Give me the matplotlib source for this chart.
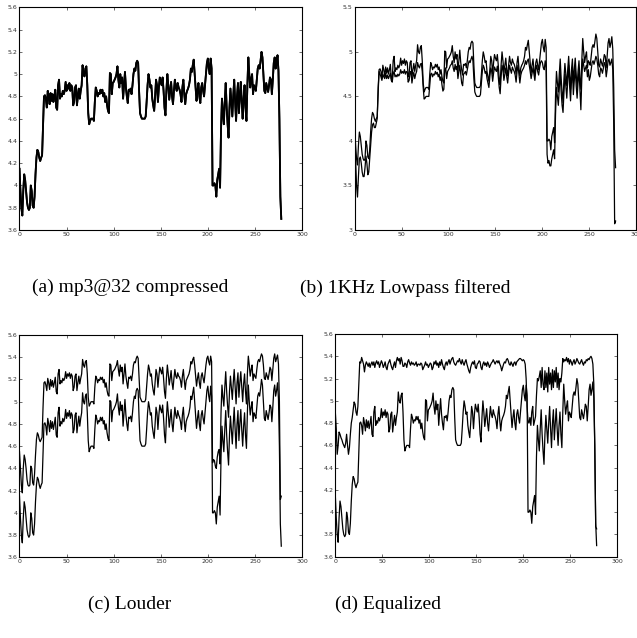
import numpy as np
import matplotlib
matplotlib.use('Agg')
import matplotlib.pyplot as plt
from matplotlib.ticker import FormatStrFormatter

# original feature track (one per frame)
original = [
    4.15, 3.95, 3.8, 3.73, 3.95, 4.1, 4.05, 3.95, 3.85, 3.8,      # 0
    3.78, 3.8, 4.0, 3.95, 3.82, 3.8, 3.9, 4.1, 4.25, 4.32,        # 10
    4.3, 4.25, 4.22, 4.25, 4.27, 4.55, 4.8, 4.81, 4.78, 4.7,      # 20
    4.85, 4.8, 4.73, 4.83, 4.76, 4.82, 4.75, 4.8, 4.86, 4.7,      # 30
    4.68, 4.9, 4.95, 4.78, 4.82, 4.8, 4.85, 4.82, 4.85, 4.93,     # 40
    4.85, 4.9, 4.87, 4.92, 4.85, 4.9, 4.88, 4.72, 4.75, 4.88,     # 50
    4.9, 4.72, 4.8, 4.87, 4.78, 4.85, 4.9, 5.08, 5.0, 4.98,       # 60
    5.05, 5.07, 4.9, 4.65, 4.55, 4.58, 4.6, 4.6, 4.6, 4.58,       # 70
    4.75, 4.88, 4.85, 4.8, 4.83, 4.82, 4.86, 4.83, 4.86, 4.8,     # 80
    4.83, 4.75, 4.8, 4.72, 4.67, 4.65, 5.01, 5.0, 4.82, 4.92,     # 90
    4.93, 4.95, 4.97, 5.0, 5.07, 4.95, 4.88, 5.0, 4.92, 4.97,     # 100
    4.78, 4.9, 5.02, 4.88, 4.8, 4.74, 4.86, 4.85, 4.87, 4.82,     # 110
    4.9, 5.0, 5.05, 5.03, 5.1, 5.12, 5.1, 4.85, 4.65, 4.62,       # 120
    4.6, 4.6, 4.6, 4.6, 4.62, 4.75, 4.9, 5.0, 4.95, 4.88,         # 130
    4.9, 4.78, 4.72, 4.67, 4.8, 4.95, 4.9, 4.75, 4.88, 4.97,      # 140
    4.93, 4.9, 4.97, 4.85, 4.7, 4.63, 4.85, 5.0, 4.9, 4.77,       # 150
    4.85, 4.93, 4.8, 4.73, 4.85, 4.95, 4.88, 4.85, 4.92, 4.88,    # 160
    4.86, 4.82, 4.75, 4.88, 4.95, 4.82, 4.73, 4.82, 4.85, 4.87,   # 170
    4.9, 4.95, 5.05, 5.02, 5.08, 5.13, 5.0, 4.88, 4.76, 4.85,     # 180
    4.92, 4.8, 4.74, 4.88, 4.92, 4.85, 4.8, 4.9, 5.0, 5.1,        # 190
    5.14, 5.05, 5.0, 5.14, 5.05, 4.0, 4.0, 4.02, 4.0, 3.9,        # 200
    4.05, 4.1, 4.15, 3.98, 4.5, 4.78, 4.65, 4.55, 4.75, 4.92,     # 210
    4.7, 4.55, 4.43, 4.7, 4.87, 4.75, 4.62, 4.8, 4.95, 4.75,      # 220
    4.58, 4.8, 4.92, 4.65, 4.8, 4.93, 4.75, 4.6, 4.78, 4.9,       # 230
    4.7, 4.58, 4.9, 5.15, 5.0, 4.88, 4.95, 5.0, 4.82, 4.9,        # 240
    4.88, 4.85, 4.95, 5.05, 5.08, 5.05, 5.12, 5.2, 5.15, 5.0,     # 250
    4.85, 4.83, 4.92, 4.88, 4.84, 4.9, 4.97, 4.95, 4.82, 4.95,    # 260
    5.1, 5.15, 5.05, 5.1, 5.17, 5.03, 4.6, 3.9, 3.7,              # 270
]

# mp3@32 track sits on top of the original at this resolution
mp3_32 = list(original)

lowpass = [
    3.8, 3.78, 3.5, 3.37, 3.6, 3.8, 3.82, 3.75, 3.65, 3.6,
    3.6, 3.7, 3.83, 3.75, 3.62, 3.65, 3.8, 3.95, 4.1, 4.18,
    4.2, 4.15, 4.15, 4.2, 4.25, 4.6, 4.78, 4.75, 4.72, 4.68,
    4.75, 4.72, 4.7, 4.76, 4.7, 4.74, 4.7, 4.73, 4.76, 4.68,
    4.66, 4.75, 4.78, 4.72, 4.74, 4.72, 4.75, 4.73, 4.75, 4.8,
    4.76, 4.78, 4.76, 4.8, 4.75, 4.78, 4.77, 4.66, 4.68, 4.76,
    4.78, 4.65, 4.72, 4.77, 4.7, 4.75, 4.78, 4.88, 4.84, 4.82,
    4.86, 4.87, 4.78, 4.6, 4.47, 4.48, 4.5, 4.5, 4.5, 4.5,
    4.62, 4.75, 4.76, 4.72, 4.75, 4.74, 4.78, 4.75, 4.77, 4.72,
    4.75, 4.68, 4.72, 4.63, 4.56, 4.58, 4.8, 4.82, 4.7, 4.78,
    4.8, 4.82, 4.85, 4.86, 4.9, 4.82, 4.78, 4.86, 4.8, 4.84,
    4.7, 4.78, 4.85, 4.75, 4.65, 4.62, 4.75, 4.76, 4.78, 4.74,
    4.8, 4.86, 4.9, 4.88, 4.92, 4.95, 4.9, 4.7, 4.55, 4.52,
    4.5, 4.5, 4.5, 4.5, 4.52, 4.65, 4.78, 4.85, 4.82, 4.76,
    4.78, 4.7, 4.65, 4.6, 4.72, 4.82, 4.78, 4.67, 4.76, 4.83,
    4.8, 4.78, 4.84, 4.72, 4.6, 4.53, 4.72, 4.85, 4.8, 4.68,
    4.75, 4.82, 4.72, 4.65, 4.76, 4.85, 4.8, 4.76, 4.83, 4.8,
    4.78, 4.74, 4.66, 4.78, 4.85, 4.75, 4.65, 4.74, 4.78, 4.8,
    4.82, 4.85, 4.9, 4.86, 4.9, 4.92, 4.85, 4.78, 4.7, 4.76,
    4.82, 4.75, 4.68, 4.8, 4.85, 4.78, 4.74, 4.82, 4.88, 4.9,
    4.88, 4.82, 4.8, 4.9, 4.82, 3.85, 3.75, 3.78, 3.72, 3.72,
    3.8, 3.85, 3.9, 3.8, 4.3, 4.6, 4.5, 4.4, 4.6, 4.78,
    4.55, 4.4, 4.32, 4.55, 4.75, 4.62, 4.48, 4.68, 4.85, 4.62,
    4.45, 4.68, 4.8, 4.52, 4.68, 4.82, 4.62, 4.48, 4.66, 4.8,
    4.58, 4.35, 4.7, 4.92, 4.85, 4.78, 4.82, 4.85, 4.72, 4.8,
    4.68, 4.72, 4.8, 4.88, 4.9, 4.86, 4.9, 4.95, 4.92, 4.85,
    4.75, 4.72, 4.82, 4.8, 4.76, 4.82, 4.88, 4.85, 4.72, 4.8,
    4.9, 4.92, 4.85, 4.88, 4.92, 4.8, 4.2, 3.07, 3.1,
]

louder = [
    4.55, 4.4, 4.25, 4.18, 4.4, 4.52, 4.48, 4.4, 4.3, 4.25,
    4.24, 4.25, 4.42, 4.4, 4.27, 4.25, 4.35, 4.52, 4.66, 4.72,
    4.7, 4.66, 4.64, 4.66, 4.68, 4.95, 5.17, 5.18, 5.15, 5.1,
    5.21, 5.17, 5.11, 5.2, 5.14, 5.19, 5.13, 5.17, 5.22, 5.09,
    5.07, 5.25, 5.29, 5.16, 5.19, 5.17, 5.21, 5.19, 5.21, 5.27,
    5.21, 5.25, 5.23, 5.26, 5.21, 5.25, 5.23, 5.1, 5.13, 5.23,
    5.25, 5.1, 5.17, 5.23, 5.16, 5.21, 5.25, 5.38, 5.33, 5.31,
    5.36, 5.37, 5.25, 5.04, 4.96, 4.98, 5.0, 5.0, 5.0, 4.98,
    5.13, 5.23, 5.21, 5.17, 5.2, 5.19, 5.22, 5.2, 5.22, 5.17,
    5.2, 5.13, 5.17, 5.1, 5.06, 5.05, 5.34, 5.33, 5.19, 5.27,
    5.28, 5.29, 5.31, 5.33, 5.37, 5.29, 5.23, 5.33, 5.27, 5.31,
    5.16, 5.25, 5.34, 5.23, 5.17, 5.12, 5.22, 5.21, 5.23, 5.19,
    5.25, 5.33, 5.36, 5.35, 5.39, 5.41, 5.39, 5.21, 5.04, 5.02,
    5.0, 5.0, 5.0, 5.0, 5.02, 5.13, 5.25, 5.33, 5.29, 5.23,
    5.25, 5.16, 5.1, 5.06, 5.17, 5.29, 5.25, 5.13, 5.23, 5.31,
    5.28, 5.25, 5.31, 5.21, 5.09, 5.03, 5.21, 5.33, 5.25, 5.15,
    5.21, 5.28, 5.17, 5.11, 5.21, 5.29, 5.23, 5.21, 5.26, 5.23,
    5.22, 5.19, 5.13, 5.23, 5.29, 5.19, 5.11, 5.19, 5.21, 5.23,
    5.25, 5.29, 5.36, 5.34, 5.38, 5.4, 5.33, 5.23, 5.14, 5.21,
    5.26, 5.17, 5.12, 5.23, 5.26, 5.21, 5.17, 5.25, 5.33, 5.39,
    5.41, 5.36, 5.33, 5.41, 5.36, 4.45, 4.48, 4.47, 4.42, 4.4,
    4.5, 4.55, 4.57, 4.44, 4.9, 5.15, 5.04, 4.96, 5.13, 5.27,
    5.09, 4.96, 4.86, 5.09, 5.23, 5.13, 5.02, 5.17, 5.29, 5.13,
    4.98, 5.17, 5.26, 5.04, 5.17, 5.27, 5.13, 5.0, 5.16, 5.25,
    5.09, 4.98, 5.25, 5.41, 5.33, 5.23, 5.29, 5.33, 5.19, 5.25,
    5.23, 5.21, 5.29, 5.36, 5.38, 5.36, 5.4, 5.43, 5.41, 5.33,
    5.21, 5.2, 5.26, 5.23, 5.2, 5.25, 5.31, 5.29, 5.19, 5.29,
    5.39, 5.43, 5.36, 5.39, 5.42, 5.34, 5.0, 4.12, 4.15,
]

equalized = [
    4.9, 4.75, 4.52, 4.6, 4.72, 4.7, 4.67, 4.65, 4.62, 4.6,
    4.58, 4.62, 4.7, 4.6, 4.52, 4.58, 4.7, 4.8, 4.85, 4.92,
    4.99, 4.97, 4.9, 4.87, 4.95, 5.15, 5.35, 5.34, 5.39, 5.36,
    5.33, 5.26, 5.32, 5.35, 5.33, 5.31, 5.34, 5.3, 5.33, 5.35,
    5.32, 5.35, 5.3, 5.34, 5.36, 5.33, 5.35, 5.3, 5.33, 5.36,
    5.34, 5.3, 5.32, 5.35, 5.3, 5.28, 5.33, 5.35, 5.37, 5.33,
    5.3, 5.28, 5.32, 5.35, 5.3, 5.36, 5.39, 5.36, 5.38, 5.33,
    5.39, 5.36, 5.31, 5.31, 5.34, 5.33, 5.3, 5.35, 5.37, 5.34,
    5.32, 5.35, 5.33, 5.34, 5.32, 5.33, 5.35, 5.31, 5.33, 5.33,
    5.32, 5.34, 5.33, 5.28, 5.3, 5.32, 5.35, 5.32, 5.33, 5.3,
    5.32, 5.34, 5.33, 5.28, 5.3, 5.35, 5.33, 5.36, 5.32, 5.34,
    5.3, 5.35, 5.32, 5.37, 5.33, 5.3, 5.28, 5.33, 5.35, 5.32,
    5.35, 5.37, 5.33, 5.36, 5.38, 5.39, 5.35, 5.33, 5.32, 5.34,
    5.36, 5.35, 5.38, 5.35, 5.33, 5.37, 5.34, 5.32, 5.35, 5.37,
    5.33, 5.3, 5.27, 5.25, 5.3, 5.33, 5.35, 5.33, 5.36, 5.3,
    5.29, 5.33, 5.34, 5.36, 5.35, 5.3, 5.28, 5.33, 5.35, 5.32,
    5.34, 5.31, 5.35, 5.33, 5.3, 5.32, 5.34, 5.35, 5.37, 5.35,
    5.33, 5.35, 5.36, 5.34, 5.36, 5.33, 5.31, 5.27, 5.3, 5.33,
    5.35, 5.34, 5.37, 5.38, 5.36, 5.33, 5.32, 5.35, 5.33, 5.31,
    5.34, 5.35, 5.32, 5.35, 5.36, 5.37, 5.38, 5.38, 5.37, 5.36,
    5.37, 5.36, 5.33, 5.2, 4.95, 4.82, 4.8, 4.85, 4.78, 4.9,
    4.95, 4.78, 4.82, 4.86, 5.05, 5.2, 5.18, 5.22, 5.27, 5.12,
    5.3, 5.15, 5.1, 5.27, 5.12, 5.25, 5.08, 5.3, 5.15, 5.25,
    5.1, 5.28, 5.12, 5.27, 5.17, 5.3, 5.12, 5.25, 5.1, 5.2,
    5.17, 5.25, 5.38, 5.35, 5.37, 5.36, 5.39, 5.35, 5.38, 5.33,
    5.37, 5.35, 5.32, 5.35, 5.37, 5.33, 5.35, 5.38, 5.36, 5.34,
    5.33, 5.35, 5.37, 5.34, 5.32, 5.35, 5.34, 5.37, 5.36, 5.38,
    5.37, 5.39, 5.4, 5.38, 5.33, 5.15, 4.6, 3.87, 3.85,
]

captions = ['(a) mp3@32 compressed', '(b) 1KHz Lowpass filtered',
            '(c) Louder', '(d) Equalized']
ylims = [(3.6, 5.6), (3.0, 5.5), (3.6, 5.6), (3.6, 5.6)]
yticks = [np.arange(3.6, 5.61, 0.2), np.arange(3.0, 5.51, 0.5),
          np.arange(3.6, 5.61, 0.2), np.arange(3.6, 5.61, 0.2)]
pairs = [(original, mp3_32), (original, lowpass),
         (original, louder), (original, equalized)]

fig = plt.figure(figsize=(6.37, 6.38), dpi=100)

# axes boxes in figure fractions [left, bottom, width, height]
boxes = [[0.0306, 0.6395, 0.4435, 0.349],
         [0.5568, 0.6395, 0.4420, 0.349],
         [0.0306, 0.1265, 0.4435, 0.3484],
         [0.5264, 0.1274, 0.4427, 0.349]]
# caption centres (x, y) in figure fractions
cap_pos = [(0.204, 0.549), (0.636, 0.549), (0.204, 0.052), (0.609, 0.052)]

for i in range(4):
    ax = fig.add_axes(boxes[i])
    for s in pairs[i]:
        ax.plot(np.arange(len(s)), s, color='black',
                lw=1.3 if i == 0 else 0.9)
    ax.set_xlim(0, 300)
    ax.set_ylim(*ylims[i])
    ax.set_xticks(np.arange(0, 301, 50))
    ax.set_yticks(yticks[i])
    ax.yaxis.set_major_formatter(FormatStrFormatter('%g'))
    ax.tick_params(direction='in', top=True, right=True, length=2.5,
                   width=0.5, labelsize=4.5, pad=1.5, colors='#333333')
    for sp in ax.spines.values():
        sp.set_linewidth(0.8)
    fig.text(cap_pos[i][0], cap_pos[i][1], captions[i],
             ha='center', va='center', fontsize=14,
             family='Liberation Serif')

fig.savefig('out.png', dpi=100)
